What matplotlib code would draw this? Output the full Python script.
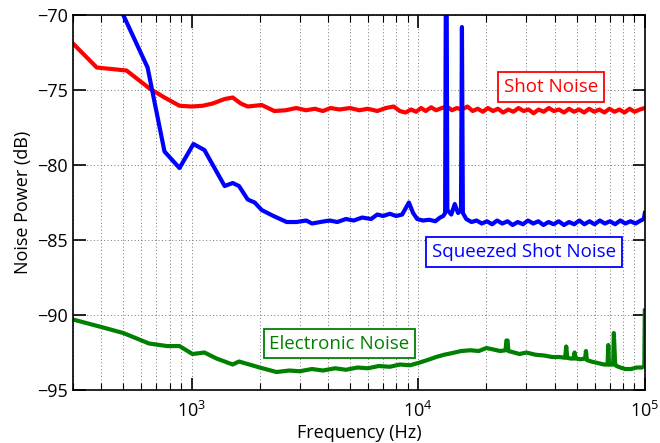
#!/usr/bin/env python3
import matplotlib
matplotlib.use("Agg")
import matplotlib.pyplot as plt
from matplotlib.ticker import LogLocator, NullFormatter

# (frequency Hz, noise power dB)
shot_noise = [
    (300, -71.9), (382, -73.5), (517, -73.7), (653, -74.9), (760, -75.5),
    (885, -76.05), (1000, -76.1), (1120, -76.05), (1240, -75.9), (1400, -75.6),
    (1520, -75.5), (1650, -75.9), (1770, -76.1), (2040, -76.0), (2320, -76.4),
    (2600, -76.35), (2900, -76.2), (3200, -76.35), (3500, -76.25), (3800, -76.4),
    (4100, -76.2), (4500, -76.3), (5000, -76.2), (5500, -76.35), (6000, -76.25),
    (6600, -76.4), (7200, -76.2), (7800, -76.1), (8300, -76.4), (8800, -76.5),
    (9300, -76.3), (9800, -76.45), (10300, -76.2), (10800, -76.4), (11400, -76.15),
    (12000, -76.35), (12700, -76.2), (13400, -76.1), (14100, -76.35), (14800, -76.2),
    (15600, -76.3), (16500, -76.1), (17400, -76.4), (18300, -76.25), (19300, -76.45),
    (20300, -76.2), (21400, -76.4), (22500, -76.25), (23700, -76.5), (25000, -76.3),
    (26300, -76.45), (27700, -76.2), (29200, -76.4), (30700, -76.3), (32300, -76.55),
    (34000, -76.3), (35800, -76.45), (37700, -76.2), (39700, -76.4), (41800, -76.3),
    (44000, -76.5), (46300, -76.25), (48700, -76.45), (51300, -76.3), (54000, -76.5),
    (56800, -76.25), (59800, -76.45), (63000, -76.3), (66300, -76.5), (69800, -76.25),
    (73500, -76.45), (77300, -76.3), (81400, -76.5), (85700, -76.25), (90200, -76.45),
    (95000, -76.3), (100000, -76.2),
]

squeezed_noise = [
    (470, -68.8), (500, -70.0), (640, -73.5), (760, -79.1), (885, -80.2),
    (1020, -78.6), (1140, -79.0), (1400, -81.4), (1520, -81.2), (1620, -81.4),
    (1770, -82.3), (1900, -82.5), (2040, -83.0), (2300, -83.4), (2630, -83.8),
    (2900, -83.8), (3210, -83.7), (3400, -83.9), (3700, -83.8), (4060, -83.7),
    (4400, -83.8), (4800, -83.6), (5200, -83.7), (5660, -83.5), (6200, -83.6),
    (6600, -83.3), (7000, -83.4), (7500, -83.25), (8000, -83.4), (8500, -83.3),
    (9100, -82.5), (9500, -83.2), (9900, -83.6), (10500, -83.7), (11200, -83.65),
    (11900, -83.75), (12500, -83.5), (12900, -83.4), (13150, -83.2), (13300, -60.0),
    (13450, -83.0), (14000, -83.3), (14500, -82.6), (15000, -83.2), (15450, -83.0),
    (15600, -70.8), (15750, -83.2), (16300, -83.6), (17200, -83.8), (18100, -83.7),
    (19100, -83.9), (20100, -83.75), (21200, -83.95), (22300, -83.7), (23500, -83.9),
    (24800, -83.75), (26100, -84.0), (27500, -83.8), (29000, -83.95), (30500, -83.7),
    (32200, -83.9), (33900, -83.75), (35700, -84.0), (37600, -83.8), (39600, -83.95),
    (41700, -83.75), (44000, -84.0), (46300, -83.8), (48800, -83.95), (51400, -83.7),
    (54100, -83.95), (57000, -83.75), (60000, -83.95), (63300, -83.7), (66600, -83.9),
    (70200, -83.75), (73900, -83.95), (77900, -83.7), (82000, -83.9), (86400, -83.75),
    (91000, -83.9), (95800, -83.7), (99000, -83.6), (100000, -83.2),
]

electronic_noise = [
    (300, -90.3), (400, -90.8), (500, -91.2), (650, -91.9), (780, -92.07),
    (885, -92.07), (1010, -92.6), (1140, -92.5), (1290, -92.9), (1520, -93.3),
    (1620, -93.1), (2000, -93.5), (2370, -93.8), (2700, -93.7), (3000, -93.75),
    (3400, -93.6), (3800, -93.7), (4300, -93.55), (4800, -93.65), (5400, -93.5),
    (6000, -93.55), (6700, -93.4), (7500, -93.45), (8300, -93.3), (9200, -93.35),
    (10000, -93.2), (11000, -93.0), (12000, -92.8), (13000, -92.65), (14000, -92.55),
    (15500, -92.4), (17000, -92.35), (18500, -92.4), (20000, -92.2), (21500, -92.3),
    (23000, -92.4), (24300, -92.35), (24500, -91.7), (24800, -91.7), (25000, -92.4),
    (26500, -92.5), (28000, -92.6), (30000, -92.5), (33000, -92.65), (36000, -92.7),
    (39000, -92.8), (42000, -92.8), (44500, -92.85), (45000, -92.1), (45500, -92.85),
    (47000, -92.9), (48500, -92.9), (49000, -92.5), (49500, -92.9), (52000, -92.95),
    (54500, -92.9), (55000, -92.4), (55500, -93.0), (58000, -93.1), (62000, -93.2),
    (66000, -93.3), (68500, -93.3), (69000, -92.0), (69500, -93.3), (71500, -93.3),
    (72500, -93.3), (73000, -91.2), (74000, -93.3), (75000, -93.4), (78000, -93.5),
    (82000, -93.6), (87000, -93.6), (92000, -93.5), (97000, -93.5), (99500, -93.4),
    (100000, -89.7),
]

labels = ["Shot Noise", "Squeezed Shot Noise", "Electronic Noise"]
label_pos = [(38600, -74.8), (29300, -85.8), (4490, -91.9)]
colors = ["#ff0000", "#0000ff", "#008000"]

plt.rcParams["font.family"] = ["Open Sans", "DejaVu Sans"]
plt.rcParams["mathtext.fontset"] = "custom"
plt.rcParams["mathtext.rm"] = "Open Sans"

fig = plt.figure(figsize=(6.6, 4.43), dpi=100)
ax = fig.add_axes([0.1106, 0.1196, 0.8664, 0.8465])

for series, col in zip([shot_noise, squeezed_noise, electronic_noise], colors):
    f, db = zip(*series)
    ax.plot(f, db, color=col, lw=3, solid_joinstyle="round")

for text, (x, y), col in zip(labels, label_pos, colors):
    ax.text(x, y, text, color=col, fontsize=13.5, ha="center", va="center",
            bbox=dict(boxstyle="square,pad=0.3", fc="white", ec=col, lw=1.3))

ax.set_xscale("log")
ax.set_xlim(300, 1e5)
ax.set_ylim(-95, -70)
ax.set_yticks([-95, -90, -85, -80, -75, -70])
ax.set_yticklabels(["\u221295", "\u221290", "\u221285", "\u221280", "\u221275", "\u221270"])
ax.xaxis.set_major_locator(LogLocator(base=10, numticks=10))
ax.xaxis.set_minor_locator(LogLocator(base=10, subs=range(2, 10), numticks=20))
ax.xaxis.set_minor_formatter(NullFormatter())

grid_style = dict(color="#777777", lw=0.7, dashes=(1, 2.5))
ax.grid(True, which="major", **grid_style)
ax.grid(True, which="minor", axis="x", **grid_style)
ax.tick_params(which="both", direction="in", top=True, right=True, labelsize=13, width=1.2)
ax.tick_params(which="major", length=9)
ax.tick_params(which="minor", length=5, width=0.8)
ax.tick_params(axis="x", pad=8)
for sp in ax.spines.values():
    sp.set_linewidth(1.2)

ax.set_xlabel("Frequency (Hz)", fontsize=13, labelpad=2)
ax.set_ylabel("Noise Power (dB)", fontsize=13, labelpad=4)

fig.savefig("out.png", dpi=100)
